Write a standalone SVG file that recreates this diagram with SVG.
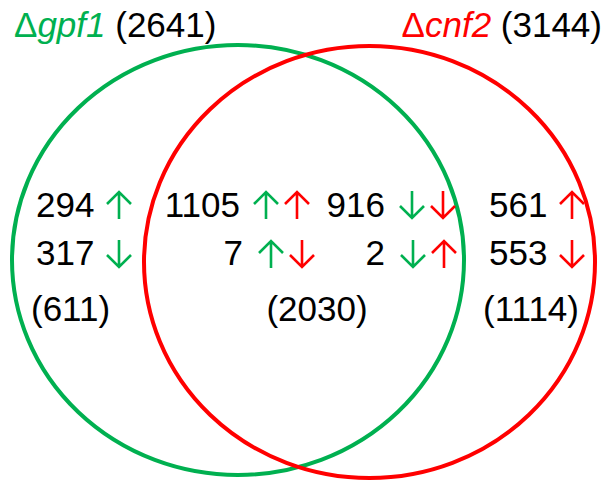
<svg xmlns="http://www.w3.org/2000/svg" width="609" height="484" viewBox="0 0 609 484">
<style>
.t{font-family:"Liberation Sans",Arial,sans-serif;font-size:35px;fill:#000}
.g{fill:#00B050}
.r{fill:#FF0000}
.i{font-style:italic}
.ag{stroke:#00B050}
.ar{stroke:#FF0000}
</style>
<defs>
<g id="up" fill="none" stroke-width="2.6" stroke-linecap="butt" stroke-linejoin="miter"><path d="M0,-13 V14 M-12,-1 L0,-13 L12,-1"/></g>
<g id="down" fill="none" stroke-width="2.6" stroke-linecap="butt" stroke-linejoin="miter"><path d="M0,-14 V13 M-12,1 L0,13 L12,1"/></g>
</defs>
<rect width="609" height="484" fill="#fff"/>
<g id="circles" fill="none" stroke-width="4">
<ellipse id="set-gpf1" cx="238" cy="260" rx="226" ry="215" stroke="#00B050"/>
<ellipse id="set-cnf2" cx="369.5" cy="262" rx="225.5" ry="216" stroke="#FF0000"/>
</g>
<g id="title-gpf1"><text class="t" x="14" y="37"><tspan class="g">Δ</tspan><tspan class="g i">gpf1</tspan> (2641)</text></g>
<g id="title-cnf2"><text class="t" x="602" y="37" text-anchor="end"><tspan class="r">Δ</tspan><tspan class="r i">cnf2</tspan> (3144)</text></g>
<g id="only-gpf1">
<text class="t" x="36" y="217">294</text>
<use href="#up" class="ag" x="119" y="205"/>
<text class="t" x="36" y="265">317</text>
<use href="#down" class="ag" x="119" y="254"/>
<text class="t" x="31" y="321">(611)</text>
</g>
<g id="both">
<text class="t" x="240" y="217" text-anchor="end">1105</text>
<use href="#up" class="ag" x="266" y="205"/>
<use href="#up" class="ar" x="297" y="205"/>
<text class="t" x="243" y="265" text-anchor="end">7</text>
<use href="#up" class="ag" x="271" y="254"/>
<use href="#down" class="ar" x="302" y="254"/>
<text class="t" x="385" y="217" text-anchor="end">916</text>
<use href="#down" class="ag" x="412" y="205"/>
<use href="#down" class="ar" x="443" y="205"/>
<text class="t" x="385" y="265" text-anchor="end">2</text>
<use href="#down" class="ag" x="413" y="254"/>
<use href="#up" class="ar" x="444" y="254"/>
<text class="t" x="317" y="321" text-anchor="middle">(2030)</text>
</g>
<g id="only-cnf2">
<text class="t" x="489" y="217">561</text>
<use href="#up" class="ar" x="572" y="205"/>
<text class="t" x="489" y="265">553</text>
<use href="#down" class="ar" x="572" y="254"/>
<text class="t" x="483" y="321">(1114)</text>
</g>
</svg>
